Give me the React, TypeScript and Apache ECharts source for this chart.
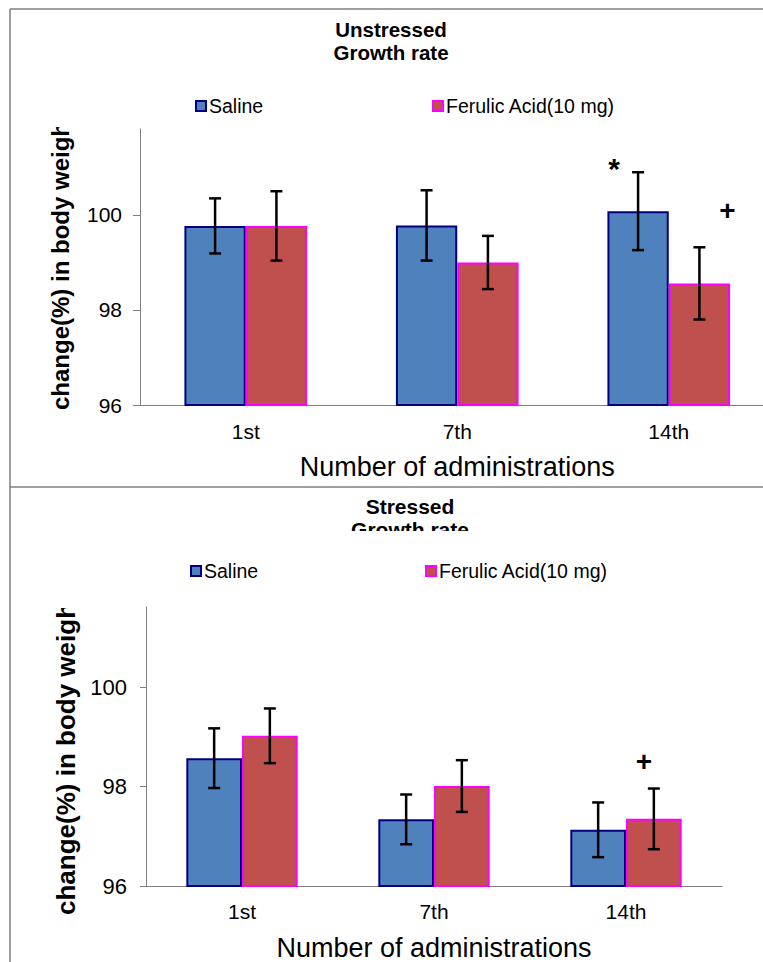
import React, { useEffect, useRef } from 'react';
import * as echarts from 'echarts';

const categories = ['1st', '7th', '14th'];
const seriesNames = ['Saline', 'Ferulic Acid(10 mg)'];
const yTicks = [96, 98, 100];

const unstressedSaline = [99.77, 99.78, 100.08];
const unstressedSalineErr = [0.58, 0.74, 0.82];
const unstressedFerulic = [99.77, 99.0, 98.56];
const unstressedFerulicErr = [0.73, 0.56, 0.76];

const stressedSaline = [98.57, 97.34, 97.13];
const stressedSalineErr = [0.6, 0.5, 0.55];
const stressedFerulic = [99.02, 98.01, 97.35];
const stressedFerulicErr = [0.55, 0.52, 0.61];

// significance marks: placed relative to the bar they annotate
const unstressedSalineMarks = [{ category: '14th', value: 101.05, text: '*', dx: -24, dy: 3, size: 30 }];
const unstressedFerulicMarks = [{ category: '14th', value: 100.1, text: '+', dx: 28, dy: 0, size: 28 }];
const stressedFerulicMarks = [{ category: '14th', value: 98.51, text: '+', dx: -10, dy: 0, size: 28 }];

const FONT = '"Liberation Sans", Arial, Helvetica, sans-serif';
const GAP = 0.42;
const SALINE = { color: '#4F81BD', borderColor: '#000080', borderWidth: 2 };
const FERULIC = { color: '#C0504D', borderColor: '#FF00FF', borderWidth: 2 };

function errorRender(params: any, api: any) {
  const ci = api.value(0);
  const v = api.value(1);
  const e = api.value(2);
  const s = api.value(3);
  const c = api.coord([ci, v]);
  const catW = api.size([1, 0])[0];
  const bw = (catW * (1 - GAP)) / 2;
  const x = c[0] + (s === 0 ? -bw / 2 : bw / 2);
  const yt = api.coord([ci, v + e])[1];
  const yb = api.coord([ci, v - e])[1];
  const cap = 6;
  const style = { stroke: '#000', lineWidth: 2.5 };
  return {
    type: 'group',
    children: [
      { type: 'line', shape: { x1: x, y1: yt, x2: x, y2: yb }, style },
      { type: 'line', shape: { x1: x - cap, y1: yt, x2: x + cap, y2: yt }, style },
      { type: 'line', shape: { x1: x - cap, y1: yb, x2: x + cap, y2: yb }, style },
    ],
  };
}

function errData(vals: number[], errs: number[], s: number) {
  return vals.map((v, i) => [i, v, errs[i], s]);
}

function marks(list: any[]) {
  return {
    symbol: 'rect',
    symbolSize: 0,
    silent: true,
    data: list.map((m) => ({
      coord: [m.category, m.value],
      value: m.text,
      label: {
        show: true,
        formatter: m.text,
        offset: [m.dx, m.dy],
        fontSize: m.size,
        fontWeight: 'bold',
        color: '#000',
        fontFamily: FONT,
      },
    })),
  };
}

function yAxis(gi: number, max: number, fs: number, margin: number, tickLen: number) {
  return {
    gridIndex: gi,
    type: 'value',
    min: 96,
    max,
    interval: 2,
    axisLine: { show: true, lineStyle: { color: '#808080', width: 1 } },
    axisTick: { show: true, length: tickLen, lineStyle: { color: '#808080' }, customValues: yTicks },
    axisLabel: {
      customValues: yTicks,
      fontSize: fs,
      color: '#000',
      margin,
      fontFamily: FONT,
      formatter: (v: number) => (yTicks.includes(v) ? String(v) : ''),
    },
    splitLine: { show: false },
  };
}

function xAxis(gi: number, fs: number, margin: number) {
  return {
    gridIndex: gi,
    type: 'category',
    data: categories,
    axisLine: { lineStyle: { color: '#808080', width: 1 } },
    axisTick: { length: 6, lineStyle: { color: '#808080' } },
    axisLabel: { fontSize: fs, color: '#000', margin, fontFamily: FONT },
    name: 'Number of administrations',
    nameLocation: 'middle',
    nameGap: 48,
    nameTextStyle: { fontSize: 27, color: '#000', fontFamily: FONT },
  };
}

function legend(name: string, left: number, top: number) {
  return {
    data: [name],
    left,
    top,
    padding: 0,
    itemWidth: 10,
    itemHeight: 10,
    icon: 'rect',
    selectedMode: false,
    textStyle: { fontSize: 19.5, color: '#000', fontFamily: FONT, padding: [0, 0, 0, -2] },
  };
}

function txt(text: string, x: number, y: number, fs: number, bold: boolean, extra: any = {}) {
  return {
    type: 'text',
    x,
    y,
    z: 50,
    style: {
      text,
      fill: '#000',
      font: `${bold ? 'bold ' : ''}${fs}px ${FONT}`,
      textAlign: 'center',
      textVerticalAlign: 'middle',
    },
    ...extra,
  };
}

export default function App() {
  const ref = useRef<HTMLDivElement>(null);
  useEffect(() => {
    if (!ref.current) return;
    const chart = echarts.init(ref.current, undefined, { renderer: 'svg' });
    const frame = { stroke: '#7f7f7f', lineWidth: 1.5 };
    chart.setOption({
      animation: false,
      backgroundColor: '#fff',
      grid: [
        { left: 140, top: 129, width: 634.5, height: 276, outerBoundsMode: 'none', containLabel: false },
        { left: 146, top: 607, width: 576, height: 279, outerBoundsMode: 'none', containLabel: false },
      ],
      xAxis: [xAxis(0, 21, 16), xAxis(1, 21, 15)],
      yAxis: [yAxis(0, 101.81, 21, 18, 7), yAxis(1, 101.61, 22, 19, 6)],
      legend: [
        legend(seriesNames[0], 195, 96),
        legend(seriesNames[1], 432, 96),
        legend(seriesNames[0], 190, 561),
        legend(seriesNames[1], 425, 561),
      ],
      series: [
        {
          type: 'bar', name: seriesNames[0], xAxisIndex: 0, yAxisIndex: 0, data: unstressedSaline,
          barGap: '0%', barCategoryGap: GAP * 100 + '%', itemStyle: SALINE, markPoint: marks(unstressedSalineMarks),
        },
        {
          type: 'bar', name: seriesNames[1], xAxisIndex: 0, yAxisIndex: 0, data: unstressedFerulic,
          barGap: '0%', barCategoryGap: GAP * 100 + '%', itemStyle: FERULIC, markPoint: marks(unstressedFerulicMarks),
        },
        {
          type: 'bar', name: seriesNames[0], xAxisIndex: 1, yAxisIndex: 1, data: stressedSaline,
          barGap: '0%', barCategoryGap: GAP * 100 + '%', itemStyle: SALINE,
        },
        {
          type: 'bar', name: seriesNames[1], xAxisIndex: 1, yAxisIndex: 1, data: stressedFerulic,
          barGap: '0%', barCategoryGap: GAP * 100 + '%', itemStyle: FERULIC, markPoint: marks(stressedFerulicMarks),
        },
        { type: 'custom', xAxisIndex: 0, yAxisIndex: 0, z: 10, renderItem: errorRender, encode: { x: 0, y: 1 }, data: errData(unstressedSaline, unstressedSalineErr, 0) },
        { type: 'custom', xAxisIndex: 0, yAxisIndex: 0, z: 10, renderItem: errorRender, encode: { x: 0, y: 1 }, data: errData(unstressedFerulic, unstressedFerulicErr, 1) },
        { type: 'custom', xAxisIndex: 1, yAxisIndex: 1, z: 10, renderItem: errorRender, encode: { x: 0, y: 1 }, data: errData(stressedSaline, stressedSalineErr, 0) },
        { type: 'custom', xAxisIndex: 1, yAxisIndex: 1, z: 10, renderItem: errorRender, encode: { x: 0, y: 1 }, data: errData(stressedFerulic, stressedFerulicErr, 1) },
      ],
      graphic: [
        { type: 'line', z: 60, shape: { x1: 10, y1: 9, x2: 763, y2: 9 }, style: frame },
        { type: 'line', z: 60, shape: { x1: 10, y1: 9, x2: 10, y2: 962 }, style: frame },
        { type: 'line', z: 60, shape: { x1: 10, y1: 487, x2: 763, y2: 487 }, style: frame },
        txt('Unstressed', 391, 29, 20.5, true),
        txt('Growth rate', 391, 52, 20.5, true),
        txt('Stressed', 410, 506, 21, true),
        txt('Growth rate', 410, 529, 21, true),
        {
          type: 'text', x: 60, y: 410, rotation: Math.PI / 2, z: 50,
          style: { text: 'change(%) in body weight', fill: '#000', font: `bold 24px ${FONT}`, textAlign: 'left', textVerticalAlign: 'middle' },
        },
        {
          type: 'text', x: 66, y: 915, rotation: Math.PI / 2, z: 50,
          style: { text: 'change(%) in body weight', fill: '#000', font: `bold 26px ${FONT}`, textAlign: 'left', textVerticalAlign: 'middle' },
        },
        { type: 'rect', z: 55, shape: { x: 35, y: 11, width: 55, height: 116 }, style: { fill: '#fff' } },
        { type: 'rect', z: 55, shape: { x: 35, y: 489, width: 60, height: 119 }, style: { fill: '#fff' } },
        { type: 'rect', z: 55, shape: { x: 300, y: 531, width: 220, height: 16 }, style: { fill: '#fff' } },
      ],
    });
    return () => chart.dispose();
  }, []);
  return (
    <div
      ref={ref}
      style={{ position: 'absolute', left: 0, top: 0, width: 763, height: 962, background: '#fff' }}
    />
  );
}
